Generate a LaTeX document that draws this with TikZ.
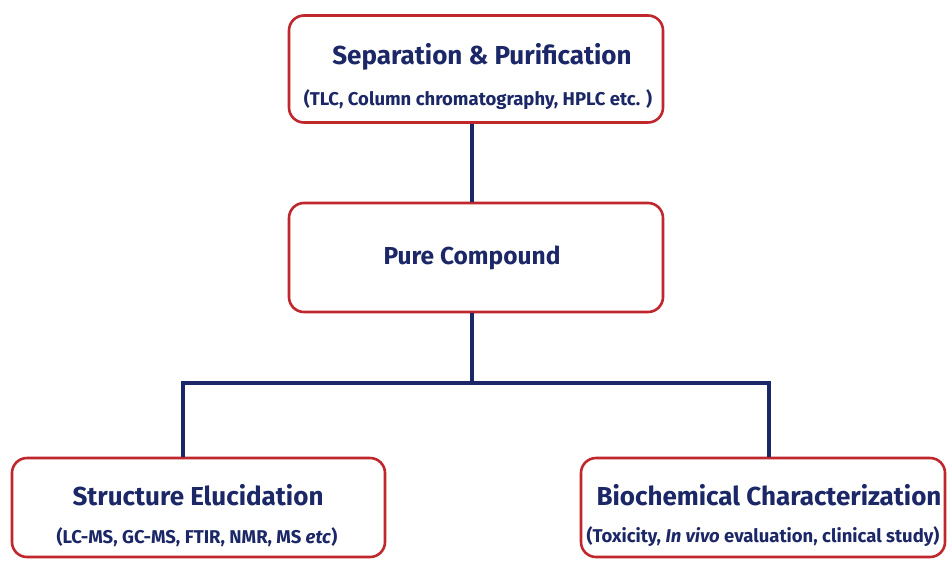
\documentclass[tikz,border=0pt]{standalone}
\usepackage{fontspec}
\setmainfont{Fira Sans}
\definecolor{navy}{HTML}{1B2766}
\definecolor{boxred}{HTML}{C0272D}
\begin{document}
\begin{tikzpicture}[x=1pt,y=-1pt,
  box/.style={draw=boxred,line width=2.6pt,rounded corners=15pt,fill=white,inner sep=0pt},
  title/.style={text=navy,font=\fontsize{26}{29}\selectfont\bfseries,inner sep=0pt},
  sub/.style={text=navy,font=\fontsize{18.5}{21}\selectfont\bfseries,inner sep=0pt},
  link/.style={draw=navy,line width=4pt}]
\useasboundingbox (0,0) rectangle (947,560);
\fill[white] (0,0) rectangle (947,560);
% boxes
\node[box,minimum width=374pt,minimum height=107pt] (sep) at (476,69) {};
\node[box,minimum width=374pt,minimum height=109pt] (pure) at (476,257.5) {};
\node[box,minimum width=373pt,minimum height=99pt] (struct) at (198.5,507.5) {};
\node[box,minimum width=364pt,minimum height=99pt] (bio) at (763,507.5) {};
% texts
\node[title] (t1) at (482,57) {Separation \& Purification};
\node[sub] (s1) at (478,100) {(TLC, Column chromatography, HPLC etc. )};
\node[title,font=\fontsize{24.5}{28}\selectfont\bfseries] (t2) at (472,258) {Pure Compound};
\node[title] (t3) at (198,495) {Structure Elucidation};
\node[sub] (s3) at (197,537) {(LC-MS, GC-MS, FTIR, NMR, MS \textit{etc})};
\node[title] (t4) at (769,495) {Biochemical Characterization};
\node[sub] (s4) at (763,537) {(Toxicity, \textit{In vivo} evaluation, clinical study)};
% connectors
\coordinate (a) at (472,0);
\draw[link] (sep.south -| a) -- (pure.north -| a);
\coordinate (j) at (472,383);
\coordinate (l) at (183,383);
\coordinate (r) at (769,383);
\draw[link] (pure.south -| a) -- (j);
\draw[link,line join=miter] (struct.north -| l) -- (l) -- (r) -- (bio.north -| r);
\end{tikzpicture}
\end{document}
